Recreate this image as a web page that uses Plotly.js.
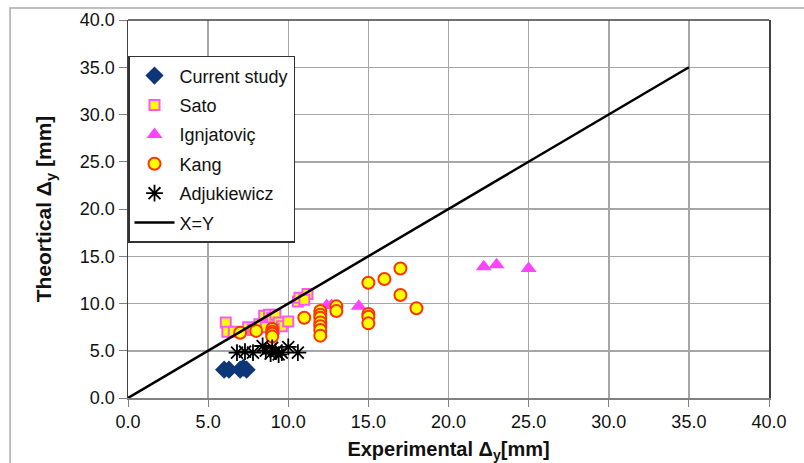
<!DOCTYPE html>
<html><head><meta charset="utf-8">
<script src="https://cdn.plot.ly/plotly-3.0.1.min.js"></script>
<style>html,body{margin:0;padding:0;background:#fff}#chart{width:804px;height:463px}</style>
</head><body><div id="chart"></div>
<script>
const currentX = [6.0, 6.3, 7.0, 7.2, 7.4];
const currentY = [3.0, 3.0, 3.0, 3.2, 3.0];

const satoX = [6.1, 6.2, 6.6, 7.5, 7.8, 8.2, 8.5, 8.8, 9.0, 9.2, 9.4, 9.6, 10.0, 10.6, 10.7, 11.2, 11.0, 8.6, 9.1];
const satoY = [8.0, 7.0, 7.0, 7.5, 7.2, 7.8, 8.7, 8.8, 8.5, 8.8, 8.0, 7.6, 8.1, 10.2, 10.6, 11.0, 10.4, 7.5, 7.3];

const ignX = [12.4, 12.7, 14.4, 22.2, 23.0, 25.0];
const ignY = [9.8, 9.8, 9.7, 13.9, 14.1, 13.7];

const kangX = [7.0, 8.0, 9.0, 9.0, 9.0, 9.0, 11.0, 12.0, 12.0, 12.0, 12.0, 12.0, 12.0, 12.0, 13.0, 13.0, 15.0, 15.0, 15.0, 15.0, 16.0, 17.0, 17.0, 18.0];
const kangY = [6.9, 7.1, 7.3, 7.0, 6.8, 6.5, 8.5, 9.2, 8.8, 8.5, 8.0, 7.6, 7.2, 6.6, 9.7, 9.2, 12.2, 8.9, 8.6, 7.9, 12.6, 13.7, 10.9, 9.5];

const adjX = [6.8, 7.3, 7.8, 8.4, 8.6, 8.9, 9.0, 9.2, 9.4, 9.6, 10.0, 10.6];
const adjY = [4.8, 4.9, 4.8, 5.5, 5.0, 4.7, 5.3, 4.9, 4.6, 4.8, 5.4, 4.8];

const lineX = [0, 35];
const lineY = [0, 35];

const xTicks = [0, 5, 10, 15, 20, 25, 30, 35, 40];
const yTicks = [0, 5, 10, 15, 20, 25, 30, 35, 40];

const F = 'Arial, "Liberation Sans", sans-serif';

const traces = [
  {x: currentX, y: currentY, name: 'Current study', mode: 'markers', type: 'scatter', legendgroup: 'a',
   marker: {symbol: 'diamond', size: 14, color: '#0c3677'}},
  {x: satoX, y: satoY, name: 'Sato', mode: 'markers', type: 'scatter', legendgroup: 'b',
   marker: {symbol: 'square', size: 10, color: '#ffff00', line: {color: '#ff55ff', width: 2}}},
  {x: ignX, y: ignY, name: 'Ignjatoviç', mode: 'markers', type: 'scatter', legendgroup: 'c',
   marker: {symbol: 'triangle-up', size: 14, color: '#ff44ff'}},
  {x: kangX, y: kangY, name: 'Kang', mode: 'markers', type: 'scatter', legendgroup: 'd',
   marker: {symbol: 'circle', size: 12, color: '#ffff00', line: {color: '#ff3300', width: 2}}},
  {x: adjX, y: adjY, name: 'Adjukiewicz', mode: 'markers', type: 'scatter', legendgroup: 'e',
   marker: {symbol: 'asterisk-open', size: 14, color: '#000', line: {color: '#000', width: 1.8}}},
  {x: lineX, y: lineY, name: 'X=Y', mode: 'lines', type: 'scatter', legendgroup: 'f',
   line: {color: '#000', width: 2.5}}
];

const layout = {
  width: 804, height: 463,
  margin: {l: 128, r: 35, t: 20, b: 65},
  paper_bgcolor: '#fff', plot_bgcolor: '#fff',
  font: {family: F, color: '#111', size: 18},
  showlegend: true,
  legend: {x: 0.0, y: 0.905, xanchor: 'left', yanchor: 'top', bgcolor: '#fff',
    bordercolor: '#333', borderwidth: 1.5, font: {family: F, size: 18, color: '#111'},
    traceorder: 'grouped', tracegroupgap: 3, itemwidth: 40},
  xaxis: {range: [0, 40], tickvals: xTicks, ticktext: xTicks.map(v => v.toFixed(1)),
    showgrid: true, gridcolor: '#a6a6a6', gridwidth: 1.5, zeroline: false,
    showline: true, linecolor: '#808080', linewidth: 1.5,
    ticks: 'outside', ticklen: 7, tickcolor: '#808080',
    tickfont: {family: F, size: 18, color: '#111'},
    title: {text: '<b>Experimental Δ<sub>y</sub>[mm]</b>', font: {family: F, size: 20, color: '#111'}, standoff: 13}},
  yaxis: {range: [0, 40], tickvals: yTicks, ticktext: yTicks.map(v => v.toFixed(1)),
    showgrid: true, gridcolor: '#a6a6a6', gridwidth: 1.5, zeroline: false,
    showline: true, linecolor: '#404040', linewidth: 1.5, mirror: true,
    ticks: 'outside', ticklen: 8, tickcolor: '#808080',
    tickfont: {family: F, size: 18, color: '#111'},
    title: {text: '<b>Theortical Δ<sub>y</sub> [mm]</b>', font: {family: F, size: 21, color: '#111'}, standoff: 22}},
  shapes: [
    {type: 'line', xref: 'paper', yref: 'paper', x0: 0, x1: 1, y0: 1, y1: 1, line: {color: '#404040', width: 1.5}},
    {type: 'rect', xref: 'paper', yref: 'paper', x0: -0.184, x1: 1.2, y0: -0.3, y1: 1.032, line: {color: '#aaaaaa', width: 1.5}, layer: 'below'}
  ]
};

Plotly.newPlot('chart', traces, layout, {displayModeBar: false, staticPlot: true});
</script></body></html>
